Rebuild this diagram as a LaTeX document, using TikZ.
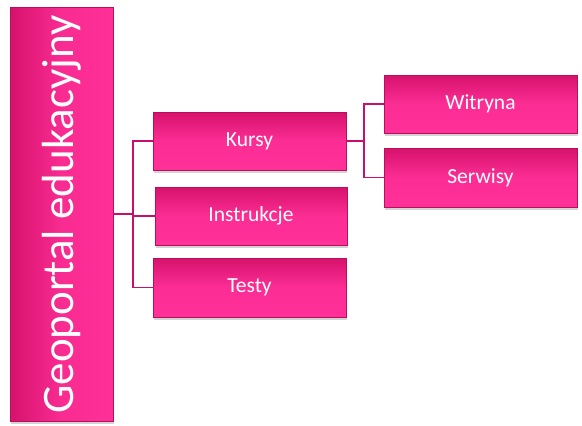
\documentclass[tikz,border=0pt]{standalone}
\usepackage{fontspec}
\setmainfont{Carlito}
\usetikzlibrary{shadows}
\definecolor{pinktop}{RGB}{214,18,108}
\definecolor{pinkbot}{RGB}{255,48,152}
\definecolor{pinkline}{RGB}{200,16,106}
\tikzset{
  basebox/.style={draw=pinktop!85!black, line width=0.5pt, text=white, inner sep=0pt,
    drop shadow={opacity=0.35, shadow xshift=1pt, shadow yshift=-2.5pt}},
  box/.style={basebox, top color=pinktop, bottom color=pinkbot,
    middle color=pinkbot!92!pinktop, font=\fontsize{21.5}{24}\selectfont},
  rootbox/.style={basebox, left color=pinktop, right color=pinkbot, middle color=pinkbot!85!pinktop},
  link/.style={draw=pinkline, line width=1.8pt}
}
\begin{document}
\begin{tikzpicture}[x=1pt,y=-1pt]
\useasboundingbox (0,0) rectangle (582,426);
\node[rootbox, minimum width=103pt, minimum height=414pt] (root) at (61.5,214.5) {};
\node[rotate=90, text=white, font=\fontsize{45}{48}\selectfont] (roottext) at (root.center) {Geoportal edukacyjny};
\node[box, minimum width=193pt, minimum height=58pt] (kursy) at (249.5,141) {Kursy};
\node[box, minimum width=192pt, minimum height=58pt] (instr) at (251,216) {Instrukcje};
\node[box, minimum width=193pt, minimum height=59pt] (testy) at (249.5,287.5) {Testy};
\node[box, minimum width=193pt, minimum height=58pt] (witryna) at (480.5,104) {Witryna};
\node[box, minimum width=193pt, minimum height=59pt] (serwisy) at (480.5,177.5) {Serwisy};
\coordinate (j1) at (133,214);
\coordinate (j2) at (364,141);
\draw[link] (root.east |- j1) -- (j1);
\draw[link] (j1) |- (kursy.west);
\draw[link] (j1) |- (instr.west);
\draw[link] (j1) |- (testy.west);
\draw[link] (kursy.east) -- (j2);
\draw[link] (j2) |- (witryna.west);
\draw[link] (j2) |- (serwisy.west);
\end{tikzpicture}
\end{document}
